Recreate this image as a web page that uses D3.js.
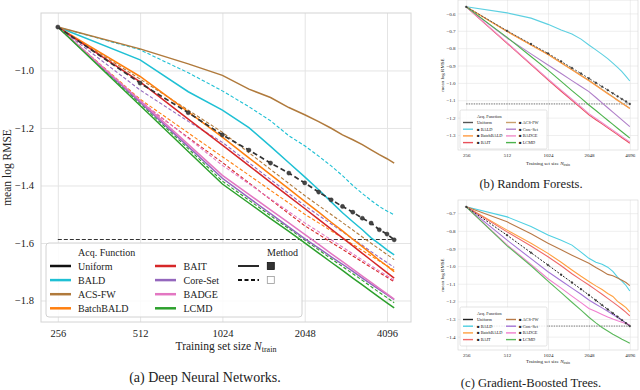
<!DOCTYPE html>
<html>
<head>
<meta charset="utf-8">
<script src="https://cdn.jsdelivr.net/npm/d3@7"></script>
<style>
  body { margin: 0; background: #fff; }
  svg text { font-family: "Liberation Serif", "DejaVu Serif", serif !important; fill: #222; }
</style>
</head>
<body>
<svg id="fig" width="640" height="390" font-family="Liberation Serif, serif"></svg>
<script>
// ---- data ----
const methods = ["Uniform", "BALD", "ACS-FW", "BatchBALD", "BAIT", "Core-Set", "BADGE", "LCMD"];

// (a) deep neural networks, N = 256 ... 4352
const dnnN = [256, 512, 768, 1024, 1280, 1536, 1792, 2048, 2304, 2560, 2816, 3072, 3328, 3584, 3840, 4096, 4352];
const dnnUniform = [-0.849, -1.044, -1.147, -1.224, -1.277, -1.322, -1.357, -1.391, -1.423, -1.450, -1.473, -1.493, -1.514, -1.531, -1.554, -1.569, -1.589];
// solid (■) runs, order BALD, ACS-FW, BatchBALD, BAIT, Core-Set, BADGE, LCMD
const dnnSolid = [
  [-0.849, -0.963, -1.074, -1.138, -1.199, -1.264, -1.321, -1.370, -1.415, -1.457, -1.495, -1.526, -1.554, -1.582, -1.603, -1.624, -1.641],
  [-0.849, -0.925, -0.977, -1.017, -1.065, -1.094, -1.129, -1.154, -1.178, -1.201, -1.224, -1.241, -1.258, -1.276, -1.293, -1.307, -1.322],
  [-0.849, -1.021, -1.144, -1.232, -1.304, -1.362, -1.412, -1.455, -1.493, -1.528, -1.558, -1.587, -1.613, -1.637, -1.660, -1.680, -1.700],
  [-0.849, -1.040, -1.169, -1.260, -1.331, -1.389, -1.438, -1.480, -1.518, -1.552, -1.582, -1.610, -1.636, -1.660, -1.682, -1.703, -1.722],
  [-0.849, -1.110, -1.265, -1.375, -1.443, -1.498, -1.545, -1.585, -1.618, -1.648, -1.674, -1.699, -1.722, -1.743, -1.762, -1.780, -1.797],
  [-0.849, -1.105, -1.257, -1.365, -1.431, -1.485, -1.530, -1.570, -1.605, -1.637, -1.665, -1.691, -1.715, -1.737, -1.758, -1.777, -1.795],
  [-0.849, -1.122, -1.282, -1.395, -1.461, -1.515, -1.560, -1.600, -1.635, -1.667, -1.695, -1.722, -1.746, -1.768, -1.789, -1.808, -1.826]
];
// dashed (□) runs, same order
const dnnDashed = [
  [-0.849, -0.928, -1.008, -1.071, -1.126, -1.175, -1.227, -1.262, -1.298, -1.332, -1.366, -1.400, -1.428, -1.452, -1.473, -1.489, -1.502],
  [-0.849, -1.030, -1.138, -1.215, -1.286, -1.344, -1.393, -1.435, -1.470, -1.501, -1.529, -1.555, -1.579, -1.601, -1.621, -1.640, -1.658],
  [-0.849, -1.100, -1.217, -1.300, -1.364, -1.417, -1.461, -1.500, -1.530, -1.558, -1.582, -1.605, -1.626, -1.645, -1.663, -1.679, -1.695],
  [-0.849, -1.110, -1.233, -1.320, -1.391, -1.449, -1.498, -1.540, -1.570, -1.598, -1.622, -1.645, -1.666, -1.685, -1.703, -1.719, -1.735],
  [-0.849, -1.068, -1.177, -1.250, -1.321, -1.379, -1.428, -1.470, -1.504, -1.534, -1.561, -1.586, -1.608, -1.630, -1.650, -1.668, -1.685],
  [-0.849, -1.105, -1.236, -1.330, -1.394, -1.447, -1.491, -1.530, -1.561, -1.589, -1.614, -1.638, -1.659, -1.679, -1.697, -1.714, -1.730],
  [-0.849, -1.115, -1.272, -1.385, -1.451, -1.505, -1.550, -1.590, -1.624, -1.655, -1.682, -1.707, -1.730, -1.752, -1.772, -1.790, -1.808]
];
const dnnRef = -1.588;

// (b) random forests and (c) gradient-boosted trees, N = 256 ... 4096, order as in methods
const treeN = [256, 512, 768, 1024, 1280, 1536, 1792, 2048, 2304, 2560, 2816, 3072, 3328, 3584, 3840, 4096];
const rfValues = [
  [-0.562, -0.700, -0.776, -0.830, -0.876, -0.914, -0.946, -0.974, -0.999, -1.021, -1.041, -1.060, -1.077, -1.093, -1.107, -1.121],
  [-0.562, -0.597, -0.627, -0.663, -0.695, -0.718, -0.748, -0.782, -0.810, -0.836, -0.860, -0.886, -0.911, -0.935, -0.962, -0.989],
  [-0.562, -0.703, -0.780, -0.835, -0.883, -0.923, -0.956, -0.985, -1.012, -1.037, -1.059, -1.079, -1.098, -1.115, -1.131, -1.146],
  [-0.562, -0.704, -0.782, -0.837, -0.885, -0.925, -0.959, -0.988, -1.015, -1.040, -1.062, -1.082, -1.101, -1.118, -1.133, -1.148],
  [-0.562, -0.772, -0.895, -0.983, -1.048, -1.100, -1.145, -1.184, -1.212, -1.236, -1.259, -1.279, -1.298, -1.316, -1.332, -1.347],
  [-0.562, -0.742, -0.833, -0.897, -0.946, -0.987, -1.021, -1.050, -1.084, -1.115, -1.143, -1.168, -1.191, -1.213, -1.233, -1.252],
  [-0.562, -0.768, -0.890, -0.977, -1.042, -1.094, -1.138, -1.177, -1.205, -1.229, -1.252, -1.272, -1.291, -1.309, -1.325, -1.340],
  [-0.562, -0.738, -0.848, -0.926, -0.991, -1.044, -1.088, -1.127, -1.159, -1.188, -1.215, -1.239, -1.261, -1.281, -1.300, -1.318]
];
const rfRef = -1.121;
const gbtValues = [
  [-0.664, -0.825, -0.924, -0.994, -1.049, -1.093, -1.131, -1.164, -1.194, -1.221, -1.245, -1.267, -1.287, -1.306, -1.324, -1.340],
  [-0.664, -0.721, -0.775, -0.824, -0.853, -0.881, -0.921, -0.956, -0.978, -0.990, -1.006, -1.030, -1.062, -1.085, -1.110, -1.141],
  [-0.664, -0.749, -0.817, -0.871, -0.908, -0.938, -0.963, -0.984, -1.008, -1.028, -1.047, -1.055, -1.068, -1.080, -1.093, -1.111],
  [-0.664, -0.796, -0.871, -0.928, -0.978, -1.022, -1.058, -1.087, -1.112, -1.133, -1.155, -1.172, -1.200, -1.218, -1.235, -1.259],
  [-0.664, -0.806, -0.886, -0.947, -0.998, -1.043, -1.078, -1.107, -1.135, -1.160, -1.183, -1.204, -1.224, -1.243, -1.262, -1.282],
  [-0.664, -0.853, -0.958, -1.032, -1.083, -1.125, -1.160, -1.192, -1.216, -1.237, -1.256, -1.274, -1.291, -1.307, -1.322, -1.338],
  [-0.664, -0.880, -0.990, -1.072, -1.125, -1.170, -1.207, -1.240, -1.258, -1.274, -1.288, -1.300, -1.310, -1.318, -1.326, -1.334],
  [-0.664, -0.885, -0.998, -1.085, -1.150, -1.205, -1.250, -1.290, -1.322, -1.348, -1.368, -1.386, -1.401, -1.415, -1.426, -1.437]
];
const gbtRef = -1.340;

const xTickValues = [256, 512, 1024, 2048, 4096];
const dnnYTicks = [-1.0, -1.2, -1.4, -1.6, -1.8];
const rfYTicks = [-0.6, -0.7, -0.8, -0.9, -1.0, -1.1, -1.2, -1.3];
const gbtYTicks = [-0.7, -0.8, -0.9, -1.0, -1.1, -1.2, -1.3, -1.4];

// ---- styles ----
const serif = '"Liberation Serif", "DejaVu Serif", serif';
const dnnColors = ["#111", "#1fc0d4", "#b07a3c", "#ff7f0e", "#d62728", "#9467bd", "#e377c2", "#2ca02c"];
const rfColors = ["#555", "#5dd0e1", "#c9a06c", "#ff9a40", "#e8505a", "#b07fc9", "#f08cc9", "#4db34d"];
const gbtColors = ["#222", "#4fd0e2", "#b87a48", "#ffa040", "#ee6a6a", "#a475d6", "#f07fcf", "#5cb85c"];

const svg = d3.select("#fig");

function styleAxis(sel, fs, gridW) {
  sel.attr("font-family", serif);
  sel.select(".domain").remove();
  sel.selectAll(".tick line").attr("stroke", "#e4e4e4").attr("stroke-width", gridW);
  sel.selectAll(".tick text")
    .attr("font-size", fs)
    .attr("fill", "#333");
}

function panel(cfg) {
  const g = svg.append("g");
  const lx = d3.extent(cfg.n).map(Math.log2);
  const mx = 0.05 * (lx[1] - lx[0]);
  const x = d3.scaleLog().base(2)
    .domain([2 ** (lx[0] - mx), 2 ** (lx[1] + mx)])
    .range([cfg.left, cfg.right]);
  const ey = d3.extent(cfg.lines.flatMap(l => l.values));
  const my = 0.05 * (ey[1] - ey[0]);
  const y = d3.scaleLinear().domain([ey[0] - my, ey[1] + my]).range([cfg.bottom, cfg.top]);

  g.append("g")
    .attr("transform", `translate(0,${cfg.bottom})`)
    .call(d3.axisBottom(x).tickValues(xTickValues).tickFormat(d3.format("d"))
      .tickSize(-(cfg.bottom - cfg.top)).tickPadding(cfg.xPad))
    .call(styleAxis, cfg.tickFont, cfg.gridW);
  g.append("g")
    .attr("transform", `translate(${cfg.left},0)`)
    .call(d3.axisLeft(y).tickValues(cfg.yTicks).tickFormat(d3.format(".1f"))
      .tickSize(-(cfg.right - cfg.left)).tickPadding(cfg.yPad))
    .call(styleAxis, cfg.tickFont, cfg.gridW);
  g.append("rect")
    .attr("x", cfg.left).attr("y", cfg.top)
    .attr("width", cfg.right - cfg.left).attr("height", cfg.bottom - cfg.top)
    .attr("fill", "none").attr("stroke", "#d4d4d4").attr("stroke-width", cfg.gridW);

  // reference line at the final uniform value
  g.append("line")
    .attr("x1", x(cfg.n[0])).attr("x2", x(cfg.n[cfg.n.length - 1]))
    .attr("y1", y(cfg.ref)).attr("y2", y(cfg.ref))
    .attr("stroke", "#333").attr("stroke-width", cfg.refW).attr("stroke-dasharray", cfg.refDash);

  const line = d3.line().x((d, i) => x(cfg.n[i])).y(d => y(d));
  g.selectAll("path.run")
    .data(cfg.lines)
    .join("path")
    .attr("class", "run")
    .attr("d", d => line(d.values))
    .attr("fill", "none")
    .attr("stroke", d => d.color)
    .attr("stroke-width", d => d.width)
    .attr("stroke-dasharray", d => d.dash || null);

  // markers on the uniform run
  const u = cfg.lines.find(l => l.marker);
  g.selectAll("circle.mk")
    .data(u.values)
    .join("circle")
    .attr("class", "mk")
    .attr("cx", (d, i) => x(cfg.n[i]))
    .attr("cy", d => y(d))
    .attr("r", cfg.markR)
    .attr("fill", "#444")
    .attr("stroke", "#222")
    .attr("stroke-width", 0.4);

  // axis titles
  g.append("text")
    .attr("transform", `translate(${cfg.yLabelX},${(cfg.top + cfg.bottom) / 2}) rotate(-90)`)
    .attr("text-anchor", "middle")
    .attr("font-size", cfg.labelFont)
    .text("mean log RMSE");
  const xl = g.append("text")
    .attr("x", (cfg.left + cfg.right) / 2)
    .attr("y", cfg.xLabelY)
    .attr("text-anchor", "middle")
    .attr("font-size", cfg.labelFont);
  xl.append("tspan").text("Training set size ");
  xl.append("tspan").attr("font-style", "italic").text("N");
  xl.append("tspan").attr("font-size", cfg.labelFont * 0.7).attr("baseline-shift", "-25%").text("train");

  g.append("text")
    .attr("x", cfg.capX).attr("y", cfg.capY)
    .attr("text-anchor", "middle")
    .attr("font-size", cfg.capFont)
    .text(cfg.caption);
  return g;
}

// ---- (a) ----
const dnnLines = [];
dnnDashed.forEach((v, i) => dnnLines.push({ values: v, color: dnnColors[i + 1], width: 1.1, dash: "3.5,2" }));
dnnSolid.forEach((v, i) => dnnLines.push({ values: v, color: dnnColors[i + 1], width: 1.5 }));
dnnLines.push({ values: dnnUniform, color: "#333", width: 1.7, dash: "5,3", marker: true });

panel({
  n: dnnN, lines: dnnLines, ref: dnnRef, yTicks: dnnYTicks,
  left: 41, right: 411, top: 13, bottom: 322,
  xPad: 8, yPad: 7, tickFont: 10.5, gridW: 1, refW: 1.1, refDash: "4,2", markR: 2.1,
  labelFont: 11.5, yLabelX: 11, xLabelY: 349.5,
  caption: "(a) Deep Neural Networks.", capX: 205, capY: 381.5, capFont: 14
});

// legend (a)
const la = svg.append("g");
la.append("rect")
  .attr("x", 46).attr("y", 243).attr("width", 256).attr("height", 74).attr("rx", 3)
  .attr("fill", "#fff").attr("fill-opacity", 0.85).attr("stroke", "#d2d2d2");
la.append("text").attr("x", 78).attr("y", 255.5).attr("font-size", 10).text("Acq. Function");
methods.forEach((m, i) => {
  const col = Math.floor(i / 4), row = i % 4;
  const hx = col ? 155 : 50, tx = col ? 183.5 : 78, ry = 266 + row * 14.1;
  la.append("line").attr("x1", hx).attr("x2", hx + 21).attr("y1", ry).attr("y2", ry)
    .attr("stroke", dnnColors[i]).attr("stroke-width", 2.5);
  la.append("text").attr("x", tx).attr("y", ry + 3.5).attr("font-size", 10).text(m);
});
la.append("text").attr("x", 267).attr("y", 255.5).attr("font-size", 10).text("Method");
[["", "#333", "#111"], ["4,2.5", "#fff", "#999"]].forEach((s, i) => {
  const ry = 266 + i * 14;
  la.append("line").attr("x1", 238).attr("x2", 259).attr("y1", ry).attr("y2", ry)
    .attr("stroke", "#111").attr("stroke-width", 1.8).attr("stroke-dasharray", s[0] || null);
  la.append("rect").attr("x", 267.3).attr("y", ry - 3.5).attr("width", 7).attr("height", 7)
    .attr("fill", s[1]).attr("stroke", s[2]).attr("stroke-width", 0.8);
});

// ---- (b) and (c) ----
function treeLines(values, colors) {
  const runs = values.slice(1).map((v, i) => ({ values: v, color: colors[i + 1], width: 1.1 }));
  runs.push({ values: values[0], color: colors[0], width: 1, dash: "2,1.5", marker: true });
  return runs;
}

function smallLegend(top, colors) {
  const lg = svg.append("g");
  lg.append("rect").attr("x", 460).attr("y", top).attr("width", 87).attr("height", 39).attr("rx", 1.5)
    .attr("fill", "#fff").attr("fill-opacity", 0.85).attr("stroke", "#d2d2d2").attr("stroke-width", 0.6);
  lg.append("text").attr("x", 477).attr("y", top + 8).attr("font-size", 4.3).text("Acq. Function");
  const order = [0, 1, 3, 4, 2, 5, 6, 7];
  order.forEach((mi, k) => {
    const col = Math.floor(k / 4), row = k % 4;
    const hx = col ? 506 : 463, tx = col ? 519 : 477, ry = top + 12.5 + row * 6.7;
    lg.append("line").attr("x1", hx).attr("x2", hx + 10).attr("y1", ry).attr("y2", ry)
      .attr("stroke", colors[mi]).attr("stroke-width", 1.4);
    lg.append("text").attr("x", tx).attr("y", ry + 1.5).attr("font-size", 4.3)
      .text(mi === 0 ? methods[mi] : "\u25A0 " + methods[mi]);
  });
}

const small = {
  n: treeN, left: 458, right: 638,
  xPad: 3.5, yPad: 2.5, tickFont: 5, gridW: 0.6, refW: 0.7, refDash: "1.5,1", markR: 0.9,
  labelFont: 5, yLabelX: 443.5, capX: 531, capFont: 12.6
};

panel(Object.assign({}, small, {
  lines: treeLines(rfValues, rfColors), ref: rfRef, yTicks: rfYTicks,
  top: 0, bottom: 150, xLabelY: 165,
  caption: "(b) Random Forests.", capY: 187.5
}));
smallLegend(110, rfColors);

panel(Object.assign({}, small, {
  lines: treeLines(gbtValues, gbtColors), ref: gbtRef, yTicks: gbtYTicks,
  top: 200, bottom: 350, xLabelY: 363,
  caption: "(c) Gradient-Boosted Trees.", capY: 386.5
}));
smallLegend(307, gbtColors);

// make sure every label uses the serif face
svg.selectAll("text").attr("font-family", serif);
</script>
</body>
</html>
